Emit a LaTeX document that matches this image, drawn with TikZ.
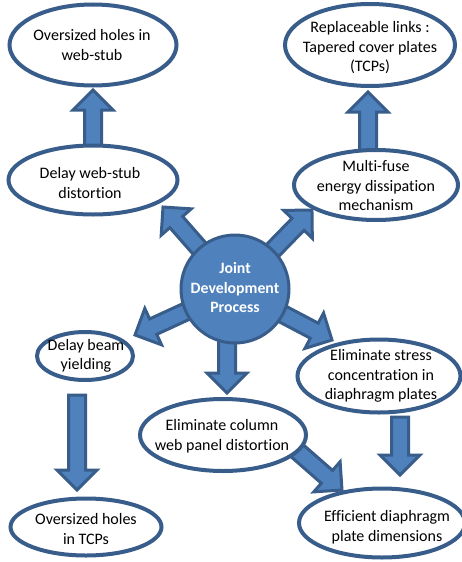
\documentclass[tikz,border=0pt]{standalone}
\usepackage{fontspec}
\setmainfont{Carlito}[Ligatures={NoCommon,NoRare}]
\usetikzlibrary{shapes.geometric,calc}
\definecolor{edgeblue}{HTML}{385D8A}
\definecolor{fillblue}{HTML}{4F81BD}
\tikzset{
  oval/.style={ellipse, draw=edgeblue, line width=4pt, fill=white, inner sep=0pt},
  ovaltext/.style={align=center, inner sep=0pt, text=black, font=\fontsize{16}{19.5}\selectfont},
  hub/.style={circle, draw=edgeblue, line width=3pt, fill=fillblue, inner sep=0pt, minimum size=108pt},
  hubtext/.style={align=center, inner sep=0pt, text=white, font=\bfseries\fontsize{15.8}{19.5}\selectfont},
  barrowstyle/.style={draw=edgeblue, fill=fillblue, line width=3pt, line join=miter}
}
\newcommand{\blockarrow}[2]{%
  \draw[barrowstyle] let \p1=(#1), \p2=(#2),
    \n1={atan2(\y2-\y1,\x2-\x1)}, \n2={veclen(\x2-\x1,\y2-\y1)}, \n3={\n2-20pt} in
    [shift={(\x1,\y1)}, rotate=\n1]
    (0pt,-8.5pt) -- (\n3,-8.5pt) -- (\n3,-20pt) -- (\n2,0pt) --
    (\n3,20pt) -- (\n3,8.5pt) -- (0pt,8.5pt) -- cycle;}
\begin{document}
\begin{tikzpicture}[x=1pt,y=-1pt]
\useasboundingbox (0,0) rectangle (461,562);
% arrow end points
\coordinate (c) at (235,289);
\coordinate (cdown) at (227,300);
\coordinate (tUL) at (163,207);
\coordinate (tUR) at (312,210);
\coordinate (tL) at (135,335);
\coordinate (tD) at (227,393);
\coordinate (tR) at (332,340);
\coordinate (t1) at (93,90);
\coordinate (s1) at (93,147);
\coordinate (t3) at (368,92);
\coordinate (s3) at (368,152);
\coordinate (t7) at (77,490);
\coordinate (s7) at (77,395);
\coordinate (t10) at (400,475);
\coordinate (s10) at (400,417);
\coordinate (t10b) at (342,490);
\coordinate (s10b) at (294,448);
% arrows
\blockarrow{c}{tUL}
\blockarrow{c}{tUR}
\blockarrow{c}{tL}
\blockarrow{cdown}{tD}
\blockarrow{c}{tR}
\blockarrow{s1}{t1}
\blockarrow{s3}{t3}
\blockarrow{s7}{t7}
\blockarrow{s10}{t10}
\blockarrow{s10b}{t10b}
% ellipses
\node[oval, minimum width=167pt, minimum height=81pt] (e1) at (93,45) {};
\node[oval, minimum width=169pt, minimum height=69pt] (e2) at (93,180) {};
\node[oval, minimum width=170pt, minimum height=82pt] (e3) at (370,45) {};
\node[oval, minimum width=164pt, minimum height=70pt] (e4) at (376,185) {};
\node[oval, minimum width=96pt, minimum height=48pt] (e6) at (85,356) {};
\node[oval, minimum width=151pt, minimum height=57pt] (e7) at (86,527) {};
\node[oval, minimum width=166pt, minimum height=72pt] (e8) at (223,435) {};
\node[oval, minimum width=163pt, minimum height=73pt] (e9) at (379,376) {};
\node[oval, minimum width=166pt, minimum height=69pt] (e10) at (382,523) {};
\node[hub] (hub) at (c) {};
% texts
\node[ovaltext] (x1) at (92,45) {Oversized holes in\\web-stub};
\node[ovaltext] (x2) at (90,183) {Delay web-stub\\distortion};
\node[ovaltext] (x3) at (370,48) {Replaceable links :\\Tapered cover plates\\(TCPs)};
\node[ovaltext] (x4) at (376,186) {Multi-fuse\\energy dissipation\\mechanism};
\node[ovaltext] (x6) at (86,356) {Delay beam\\yielding};
\node[ovaltext] (x7) at (86,529) {Oversized holes\\in TCPs};
\node[ovaltext] (x8) at (222,436) {Eliminate column\\web panel distortion};
\node[ovaltext] (x9) at (381,376) {Eliminate stress\\concentration in\\diaphragm plates};
\node[ovaltext] (x10) at (387,527) {Efficient diaphragm\\plate dimensions};
\node[hubtext] (xh) at (235,288) {Joint\\Development\\Process};
\end{tikzpicture}
\end{document}
